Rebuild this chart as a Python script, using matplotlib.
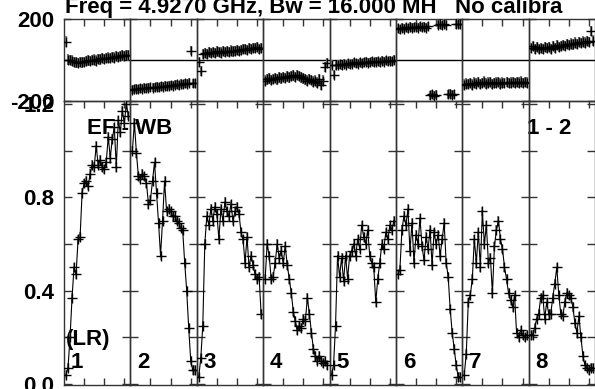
import matplotlib
matplotlib.use('Agg')
import matplotlib.pyplot as plt
import matplotlib.transforms as mtransforms
import numpy as np
from matplotlib.ticker import FixedLocator

plt.rcParams['font.family'] = ['Liberation Sans', 'DejaVu Sans']
plt.rcParams['font.weight'] = 'bold'

# ---------------- data ----------------
channels = np.arange(1, 33) / 2.0   # channel axis within each IF (0.5 .. 16)
if_labels = ['1', '2', '3', '4', '5', '6', '7', '8']

amp1 = [0.04, 0.07, 0.20, 0.37, 0.50, 0.47, 0.62, 0.63, 0.82, 0.86, 0.87, 0.85, 0.90, 0.94, 0.93, 1.02,
        0.94, 0.96, 0.93, 0.92, 0.95, 1.06, 0.97, 1.05, 1.10, 0.93, 1.13, 1.08, 1.17, 1.12, 1.20, 1.15]
amp2 = [1.00, 1.12, 0.99, 0.89, 0.88, 0.90, 0.89, 0.86, 0.77, 0.79, 0.87, 0.95, 0.82, 0.69, 0.55, 0.70,
        0.87, 0.74, 0.75, 0.74, 0.72, 0.72, 0.70, 0.69, 0.67, 0.66, 0.52, 0.40, 0.24, 0.10, 0.06, 0.06]
amp3 = [0.03, 0.11, 0.25, 0.60, 0.72, 0.68, 0.75, 0.70, 0.76, 0.73, 0.62, 0.75, 0.70, 0.78, 0.74, 0.72,
        0.77, 0.70, 0.74, 0.76, 0.73, 0.65, 0.62, 0.52, 0.63, 0.50, 0.55, 0.51, 0.47, 0.45, 0.46, 0.30]
amp4 = [0.45, 0.60, 0.55, 0.45, 0.46, 0.52, 0.60, 0.54, 0.57, 0.52, 0.59, 0.51, 0.45, 0.39, 0.31, 0.27,
        0.23, 0.25, 0.24, 0.28, 0.27, 0.37, 0.30, 0.22, 0.15, 0.12, 0.10, 0.12, 0.10, 0.09, 0.10, 0.08]
amp5 = [0.04, 0.08, 0.25, 0.55, 0.46, 0.54, 0.44, 0.55, 0.45, 0.55, 0.57, 0.60, 0.55, 0.62, 0.58, 0.68,
        0.63, 0.60, 0.66, 0.55, 0.52, 0.50, 0.35, 0.45, 0.52, 0.60, 0.58, 0.65, 0.62, 0.68, 0.66, 0.70]
amp6 = [0.47, 0.49, 0.66, 0.72, 0.68, 0.75, 0.57, 0.69, 0.52, 0.64, 0.60, 0.71, 0.59, 0.53, 0.63, 0.58,
        0.66, 0.51, 0.65, 0.60, 0.64, 0.55, 0.62, 0.69, 0.52, 0.46, 0.32, 0.22, 0.15, 0.08, 0.03, 0.03]
amp7 = [0.04, 0.13, 0.35, 0.38, 0.45, 0.62, 0.52, 0.65, 0.50, 0.74, 0.60, 0.68, 0.52, 0.54, 0.39, 0.59,
        0.66, 0.70, 0.62, 0.58, 0.50, 0.45, 0.39, 0.36, 0.33, 0.38, 0.22, 0.20, 0.23, 0.21, 0.20, 0.21]
amp8 = [0.21, 0.21, 0.24, 0.28, 0.30, 0.37, 0.38, 0.28, 0.35, 0.30, 0.30, 0.37, 0.43, 0.50, 0.38, 0.30,
        0.29, 0.35, 0.39, 0.38, 0.37, 0.33, 0.26, 0.22, 0.29, 0.20, 0.12, 0.08, 0.07, 0.06, 0.07, 0.07]

ph1 = [90, 2, 0, -3, -8, -12, -15, -10, -12, -8, -5, -2, -5, 0, 2, -3,
       5, 3, 8, 5, 10, 12, 8, 15, 12, 18, 15, 20, 22, 18, 25, 22]
ph2 = [-145, -142, -140, -143, -138, -140, -136, -138, -135, -133, -136, -132, -130, -134, -128, -130,
       -126, -128, -125, -122, -126, -120, -118, -122, -116, -118, -114, -117, -112, 45, -113, -114]
ph3 = [-8, -55, 30, 35, 28, 38, 33, 40, 35, 42, 38, 36, 45, 40, 43, 38,
       46, 42, 45, 50, 44, 48, 52, 55, 50, 58, 55, 60, 57, 62, 55, 58]
ph4 = [-100, -95, -90, -98, -92, -88, -95, -85, -90, -82, -88, -80, -85, -78, -75, -82,
       -72, -78, -85, -90, -95, -100, -92, -98, -105, -100, -110, -95, -120, -100, -35, -15]
ph5 = [-22, -72, -25, -22, -20, -25, -18, -22, -15, -20, -18, -12, -15, -18, -10, -15,
       -12, -8, -14, -10, -6, -12, -8, -5, -10, -4, -8, -2, -6, -3, -5, 0]
ph6 = [155, 150, 158, 152, 160, 155, 162, 158, 160, 163, 157, 165, 160, 162, 158, 165,
       -172, -168, -175, -170, 172, 175, 170, 176, 173, -168, -165, -170, -166, 175, 178, 174]
ph7 = [-120, -115, -118, -112, -120, -110, -115, -108, -118, -112, -105, -115, -110, -108, -118, -112,
       -110, -106, -115, -110, -112, -108, -114, -110, -106, -112, -108, -110, -105, -112, -108, -110]
ph8 = [60, 68, 52, 62, 55, 60, 52, 65, 58, 62, 55, 68, 60, 72, 65, 70,
       75, 68, 78, 72, 80, 76, 85, 78, 88, 82, 90, 85, 92, 88, 140, 95]

amplitudes = [amp1, amp2, amp3, amp4, amp5, amp6, amp7, amp8]
phases = [ph1, ph2, ph3, ph4, ph5, ph6, ph7, ph8]
phase_err = [25, 22, 25, 25, 22, 22, 25, 25]
amp_err = [0.02, 0.02, 0.02, 0.02, 0.02, 0.02, 0.02, 0.02]

title = 'Freq = 4.9270 GHz, Bw = 16.000 MH   No calibra'
source_label = 'EF - WB'
baseline_label = '1 - 2'
pol_label = '(LR)'

# ---------------- figure ----------------
W, H = 595, 389
fig = plt.figure(figsize=(W / 100, H / 100), dpi=100)
gs = fig.add_gridspec(2, 8, left=64 / W, right=1.0, top=1 - 19 / H, bottom=1 - 385 / H,
                      height_ratios=[82, 284], hspace=0, wspace=0)

FS = 16
spine_c = '#333333'
axes_amp = []
for k in range(8):
    axp = fig.add_subplot(gs[0, k])
    axa = fig.add_subplot(gs[1, k])
    axes_amp.append(axa)
    axp.set_facecolor('none')
    axa.set_facecolor('none')

    axp.errorbar(channels, phases[k], yerr=phase_err[k], fmt='+', color='black', ms=7, mew=1.0,
                 ecolor='#7a7a7a', elinewidth=1.6, capsize=0, zorder=3)
    axp.axhline(0, color='black', lw=1.0, zorder=2)
    axp.set_xlim(0, 16.5)
    axp.set_ylim(-200, 200)

    axa.errorbar(channels, amplitudes[k], yerr=amp_err[k], fmt='-+', color='black', lw=0.8, ms=7,
                 mew=1.0, ecolor='#9a9a9a', elinewidth=1.4, capsize=0, zorder=3)
    axa.set_xlim(0, 16.5)
    axa.set_ylim(-0.005, 1.213)

    for ax in (axp, axa):
        for s in ax.spines.values():
            s.set_color(spine_c)
            s.set_linewidth(1.0)
        ax.set_xticks([5, 10, 15])
        ax.tick_params(axis='x', direction='in', top=True, bottom=True, length=5, width=1,
                       color=spine_c, labelbottom=False)

    axa.yaxis.set_major_locator(FixedLocator([0.0, 0.4, 0.8, 1.2]))
    axa.yaxis.set_minor_locator(FixedLocator([0.2, 0.6, 1.0]))
    axa.tick_params(axis='y', which='both', direction='in', left=True, right=True, length=6, width=1,
                    color=spine_c, labelsize=FS, pad=7)
    axp.set_yticks([-200, 200])
    axp.tick_params(axis='y', direction='in', left=True, right=True, length=5, width=1,
                    color=spine_c, labelsize=FS, pad=7)
    axp.tick_params(axis='x', bottom=False)
    if k == 0:
        axa.set_yticklabels(['0.0', '0.4', '0.8', '1.2'], fontweight='bold')
        axp.set_yticklabels(['-200', '200'], fontweight='bold')
    else:
        axa.tick_params(axis='y', labelleft=False)
        axp.tick_params(axis='y', labelleft=False)

    tr = mtransforms.blended_transform_factory(axa.transAxes, axa.transData)
    axa.text(0.105, 0.068, if_labels[k], transform=tr, fontsize=FS,
             fontweight='bold', ha='left', va='baseline', zorder=1, clip_on=False)

tr0 = mtransforms.blended_transform_factory(axes_amp[0].transAxes, axes_amp[0].transData)
tr7 = mtransforms.blended_transform_factory(axes_amp[7].transAxes, axes_amp[7].transData)
axes_amp[0].text(0.03, 0.167, pol_label, transform=tr0, fontsize=FS,
                 fontweight='bold', ha='left', va='baseline', zorder=1, clip_on=False)
axes_amp[0].text(23 / 66.4, 1.072, source_label, transform=tr0, fontsize=FS,
                 fontweight='bold', ha='left', va='baseline', zorder=1, clip_on=False)
axes_amp[7].text(0.65, 1.072, baseline_label, transform=tr7, fontsize=FS,
                 fontweight='bold', ha='right', va='baseline', zorder=1, clip_on=False)
fig.text(65 / W, 1 - 13 / H, title, fontsize=FS, fontweight='bold', ha='left', va='baseline')

fig.savefig('out.png', dpi=100, facecolor='white')
